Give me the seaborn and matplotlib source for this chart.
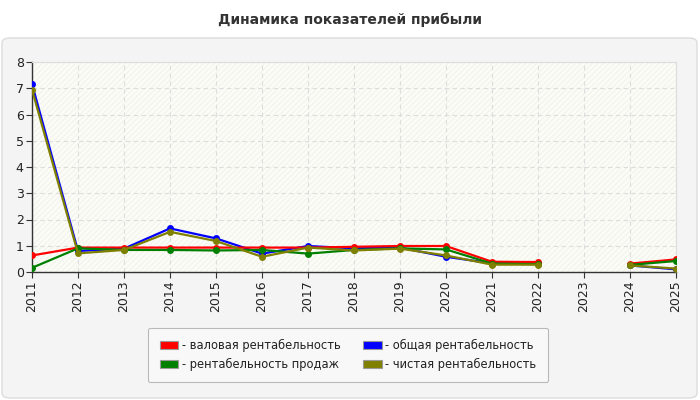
import numpy as np
import pandas as pd
import matplotlib
matplotlib.use("Agg")
import matplotlib.pyplot as plt
import matplotlib.patches as mpatches
from matplotlib.patches import FancyBboxPatch, Rectangle
import seaborn as sns

years = [2011, 2012, 2013, 2014, 2015, 2016, 2017, 2018, 2019, 2020, 2021, 2022, 2023, 2024, 2025]
gross = [0.63, 0.93, 0.93, 0.93, 0.93, 0.93, 0.93, 0.96, 0.99, 0.99, 0.39, 0.38, np.nan, 0.32, 0.48]
overall = [7.16, 0.80, 0.89, 1.66, 1.28, 0.70, 0.99, 0.90, 0.93, 0.58, 0.33, 0.35, np.nan, 0.25, 0.10]
sales = [0.16, 0.90, 0.84, 0.84, 0.82, 0.84, 0.70, 0.84, 0.90, 0.86, 0.32, 0.30, np.nan, 0.27, 0.42]
net = [6.95, 0.71, 0.84, 1.53, 1.18, 0.58, 0.93, 0.82, 0.89, 0.63, 0.28, 0.28, np.nan, 0.25, 0.13]

names = ["- валовая рентабельность", "- общая рентабельность",
         "- рентабельность продаж", "- чистая рентабельность"]
colors = ["#ff0000", "#0000ff", "#008000", "#808000"]
series = [gross, overall, sales, net]
title = "Динамика показателей прибыли"

sns.set_theme(style="white")
plt.rcParams['font.family'] = ['DejaVu Sans']
plt.rcParams['hatch.linewidth'] = 0.6

fig = plt.figure(figsize=(7, 4), dpi=100)
fig.patch.set_facecolor("white")
panel = FancyBboxPatch((2 / 700, 2 / 400), 695 / 700, 360 / 400,
                       boxstyle="round,pad=0,rounding_size=0.012",
                       transform=fig.transFigure, facecolor="#f4f4f4",
                       edgecolor="#dcdcdc", lw=1, zorder=-10)
fig.patches.append(panel)
fig.text(0.5, 1 - 20 / 400, title, ha="center", va="center",
         fontsize=10, fontweight="bold", color="#333333")

ax = fig.add_axes([32 / 700, 1 - 272 / 400, (676 - 32) / 700, (272 - 62) / 400])
ax.set_facecolor("#fcfcf6")
ax.add_patch(Rectangle((0, 0), 1, 1, transform=ax.transAxes, facecolor="none",
                       edgecolor="#f0f0ec", hatch="//////", lw=0, zorder=0))

frames = []
for i in range(4):
    seg = [0 if y < 2023 else 1 for y in years]
    df = pd.DataFrame({"year": years, "value": series[i], "seg": seg})
    frames.append(df.dropna())
for i in [1, 0, 2, 3]:
    sns.lineplot(data=frames[i], x="year", y="value", units="seg", estimator=None,
                 color=colors[i], lw=1.6, marker="o", markersize=5,
                 markeredgewidth=0, ax=ax, zorder=3, legend=False)

ax.set_xlim(2011, 2025)
ax.set_ylim(0, 8)
ax.set_xticks(years)
ax.set_xticklabels([str(y) for y in years], rotation=90, fontsize=9, color="#222222")
ax.set_yticks(range(0, 9))
ax.set_yticklabels([str(v) for v in range(0, 9)], fontsize=9, color="#222222")
ax.set_xlabel("")
ax.set_ylabel("")
ax.grid(True, color="#dddddd", ls=(0, (4, 3)), lw=0.8)
ax.tick_params(axis="both", length=4, width=0.8, color="#333333", pad=2, direction="out")
ax.tick_params(axis="x", bottom=True)
ax.tick_params(axis="y", left=True)
for s in ["top", "right"]:
    ax.spines[s].set_color("#dddddd")
    ax.spines[s].set_linewidth(0.8)
for s in ["left", "bottom"]:
    ax.spines[s].set_color("#333333")
    ax.spines[s].set_linewidth(1)

handles = [mpatches.Patch(facecolor=c, edgecolor="#999999", lw=0.8) for c in colors]
order = [0, 2, 1, 3]
leg = fig.legend([handles[k] for k in order], [names[k] for k in order],
                 loc="center", bbox_to_anchor=(348 / 700, 1 - 355 / 400), ncol=2,
                 fontsize=8.3, frameon=True, fancybox=True, handlelength=1.6,
                 handleheight=0.7, handletextpad=0.3, columnspacing=2.0,
                 labelspacing=0.45, borderpad=1.0, labelcolor="#222222")
leg.get_frame().set_facecolor("#fafafa")
leg.get_frame().set_edgecolor("#aaaaaa")
leg.get_frame().set_linewidth(0.8)

fig.savefig("out.png", dpi=100, facecolor=fig.get_facecolor())
